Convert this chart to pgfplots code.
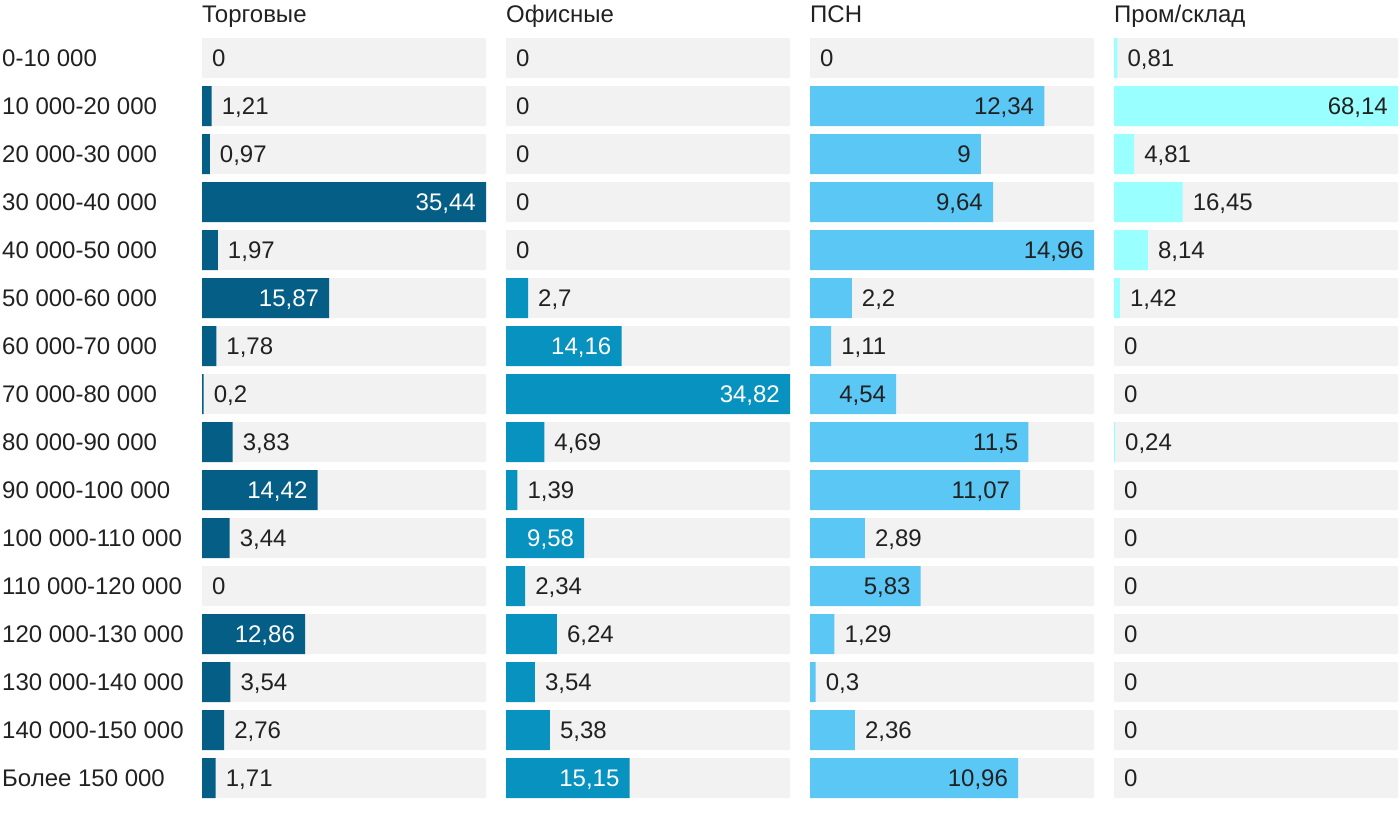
\documentclass[border=0pt]{standalone}
\usepackage{fontspec}
\setmainfont{Liberation Sans}
\usepackage{pgfplots}
\usepackage{pgfplotstable}
\pgfplotsset{compat=1.18}
\definecolor{c1}{HTML}{045E86}
\definecolor{c2}{HTML}{0892BF}
\definecolor{c3}{HTML}{5BC7F5}
\definecolor{c4}{HTML}{99FFFF}
\definecolor{bgc}{HTML}{F2F2F2}
\definecolor{txt}{HTML}{212121}

\pgfplotstableread{
row torg ofis psn prom
0 0 0 0 0.81
-1 1.21 0 12.34 68.14
-2 0.97 0 9 4.81
-3 35.44 0 9.64 16.45
-4 1.97 0 14.96 8.14
-5 15.87 2.7 2.2 1.42
-6 1.78 14.16 1.11 0
-7 0.2 34.82 4.54 0
-8 3.83 4.69 11.5 0.24
-9 14.42 1.39 11.07 0
-10 3.44 9.58 2.89 0
-11 0 2.34 5.83 0
-12 12.86 6.24 1.29 0
-13 3.54 3.54 0.3 0
-14 2.76 5.38 2.36 0
-15 1.71 15.15 10.96 0
}\data

\pgfplotsset{
  panel/.style={
    scale only axis, width=284bp, height=768bp,
    anchor=north west,
    xmin=0, ymin=-15.5, ymax=0.5,
    axis line style={draw=none},
    major tick length=0pt,
    xtick=\empty,
    ytick=\empty,
    every axis title/.style={at={(0,1)}, anchor=base west, inner sep=0pt, yshift=12bp, text=txt},
    clip=false,
  },
  bgbar/.style={xbar, bar shift=0pt, bar width=40bp, fill=bgc, draw=none},
  valbar/.style={xbar, bar shift=0pt, bar width=40bp, fill=#1, draw=none,
    x filter/.expression={x>0 ? x : nan}},
  labin/.style n args={2}{xbar, bar shift=0pt, bar width=40bp, fill=none, draw=none,
    point meta=x,
    x filter/.expression={x>#1 ? x : nan},
    nodes near coords={\pgfmathprintnumber[fixed,precision=2,use comma,assume math mode=true]{\pgfplotspointmeta}},
    every node near coord/.append style={inner sep=0pt, text=#2, anchor=base east, xshift=-10bp, yshift=-8.6bp}},
  labout/.style={xbar, bar shift=0pt, bar width=40bp, fill=none, draw=none,
    point meta=x,
    x filter/.expression={x>#1 ? nan : x},
    nodes near coords={\pgfmathprintnumber[fixed,precision=2,use comma,assume math mode=true]{\pgfplotspointmeta}},
    every node near coord/.append style={inner sep=0pt, text=txt, anchor=base west, xshift=10bp, yshift=-8.6bp}},
}

\begin{document}
\fontsize{24bp}{29bp}\selectfont
\begin{tikzpicture}
\useasboundingbox (0,0) rectangle (1400bp,-814bp);
\begin{axis}[panel, at={(202bp,-34bp)}, xmax=35.44, title={Торговые},
  ytick={0,-1,...,-15},
  yticklabels={0-10 000,10 000-20 000,20 000-30 000,30 000-40 000,40 000-50 000,50 000-60 000,60 000-70 000,70 000-80 000,80 000-90 000,90 000-100 000,100 000-110 000,110 000-120 000,120 000-130 000,130 000-140 000,140 000-150 000,Более 150 000},
  yticklabel style={anchor=base west, xshift=-200bp, yshift=-8.6bp, inner sep=0pt, text=txt}]
\addplot[bgbar] table[x expr=35.44, y=row]{\data};
\addplot[valbar=c1] table[x=torg, y=row]{\data};
\addplot[labin={9.2}{white}] table[x=torg, y=row]{\data};
\addplot[labout=9.2] table[x=torg, y=row]{\data};
\end{axis}
\begin{axis}[panel, at={(506bp,-34bp)}, xmax=34.82, title={Офисные}]
\addplot[bgbar] table[x expr=34.82, y=row]{\data};
\addplot[valbar=c2] table[x=ofis, y=row]{\data};
\addplot[labin={9.05}{white}] table[x=ofis, y=row]{\data};
\addplot[labout=9.05] table[x=ofis, y=row]{\data};
\end{axis}
\begin{axis}[panel, at={(810bp,-34bp)}, xmax=14.96, title={ПСН}]
\addplot[bgbar] table[x expr=14.96, y=row]{\data};
\addplot[valbar=c3] table[x=psn, y=row]{\data};
\addplot[labin={3.89}{txt}] table[x=psn, y=row]{\data};
\addplot[labout=3.89] table[x=psn, y=row]{\data};
\end{axis}
\begin{axis}[panel, at={(1114bp,-34bp)}, xmax=68.14, title={Пром/склад}]
\addplot[bgbar] table[x expr=68.14, y=row]{\data};
\addplot[valbar=c4] table[x=prom, y=row]{\data};
\addplot[labin={17.7}{txt}] table[x=prom, y=row]{\data};
\addplot[labout=17.7] table[x=prom, y=row]{\data};
\end{axis}
\end{tikzpicture}
\end{document}
